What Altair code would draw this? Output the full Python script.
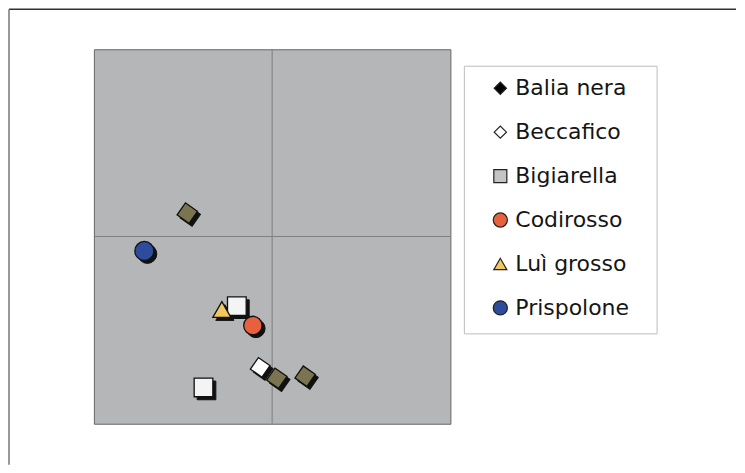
import altair as alt
import pandas as pd

# plotted points (ordination scores)
pt_species = ["Balia nera", "Balia nera", "Balia nera", "Beccafico", "Bigiarella",
              "Bigiarella", "Codirosso", "Luì grosso", "Prispolone"]
pt_x = [-0.476, 0.026, 0.185, -0.067, -0.198, -0.385, -0.108, -0.282, -0.717]
pt_y = [0.125, -0.757, -0.746, -0.699, -0.372, -0.806, -0.475, -0.390, -0.077]

# marker styling per species as drawn in the plot
sp_names = ["Balia nera", "Beccafico", "Bigiarella", "Codirosso", "Luì grosso", "Prispolone"]
sp_plot_fill = ["#7a7550", "#ffffff", "#f4f4f4", "#e8613f", "#f3c75f", "#2d4c9c"]
sp_plot_shape = ["square", "square", "square", "circle", "triangle-up", "circle"]
sp_plot_angle = [35, 35, 0, 0, 0, 0]
sp_plot_size = [215, 200, 350, 340, 330, 360]

# legend symbols
leg_fill = ["#000000", "#ffffff", "#c4c4c4", "#e8613f", "#f3c75f", "#2d4c9c"]
leg_shape = ["diamond", "diamond", "square", "circle", "triangle-up", "circle"]
leg_size = [150, 150, 170, 200, 170, 200]

idx = {s: i for i, s in enumerate(sp_names)}
pts = pd.DataFrame({
    "species": pt_species,
    "x": pt_x,
    "y": pt_y,
    "fill": [sp_plot_fill[idx[s]] for s in pt_species],
    "shape": [sp_plot_shape[idx[s]] for s in pt_species],
    "angle": [sp_plot_angle[idx[s]] for s in pt_species],
    "size": [sp_plot_size[idx[s]] for s in pt_species],
})
leg = pd.DataFrame({"species": sp_names, "fill": leg_fill, "shape": leg_shape, "size": leg_size})

W, H = 357, 375
xs = alt.Scale(domain=[-1, 1], nice=False, zero=False)
ys = alt.Scale(domain=[-1, 1], nice=False, zero=False)
one = alt.Data(values=[{}])

cross_v = alt.Chart(one).mark_rule(color="#7e8082", strokeWidth=1).encode(
    x=alt.datum(0, scale=xs, axis=None))
cross_h = alt.Chart(one).mark_rule(color="#7e8082", strokeWidth=1).encode(
    y=alt.datum(0, scale=ys, axis=None))

base = alt.Chart(pts).encode(
    x=alt.X("x:Q", scale=xs, axis=None),
    y=alt.Y("y:Q", scale=ys, axis=None),
    shape=alt.Shape("shape:N", scale=None),
    angle=alt.Angle("angle:Q", scale=None),
    size=alt.Size("size:Q", scale=None),
)
shadow = base.mark_point(filled=True, fill="#111111", stroke="#111111", strokeWidth=1,
                         opacity=1, xOffset=3, yOffset=3)
points = base.mark_point(filled=True, stroke="#111111", strokeWidth=1.3, opacity=1).encode(
    fill=alt.Fill("fill:N", scale=None))

main = alt.layer(cross_v, cross_h, shadow, points)

ly = alt.Y("species:N", scale=alt.Scale(type="point", domain=sp_names, range=[39, 259], padding=0),
           axis=None)
box = alt.Chart(one).mark_rect(fill="white", stroke="#bdbdbd", strokeWidth=1).encode(
    x=alt.value(371), x2=alt.value(564), y=alt.value(17), y2=alt.value(285))
lsym = alt.Chart(leg).mark_point(filled=True, stroke="#222222", strokeWidth=1.2, opacity=1).encode(
    x=alt.value(407), y=ly,
    shape=alt.Shape("shape:N", scale=None),
    fill=alt.Fill("fill:N", scale=None),
    size=alt.Size("size:Q", scale=None),
)
ltxt = alt.Chart(leg).mark_text(align="left", baseline="middle", font="DejaVu Sans",
                                fontSize=22, color="#151515").encode(
    x=alt.value(422), y=ly, text="species:N")
legend = alt.layer(box, lsym, ltxt)

frame_top = alt.Chart(one).mark_rule(color="#333333", strokeWidth=1.5).encode(
    x=alt.value(-85), x2=alt.value(643), y=alt.value(-40))
frame_left = alt.Chart(one).mark_rule(color="#777777", strokeWidth=1.5).encode(
    x=alt.value(-85), y=alt.value(-40), y2=alt.value(416))
frame = alt.layer(frame_top, frame_left)

chart = alt.layer(frame, main, legend).resolve_scale(
    y="independent", x="independent"
).properties(
    width=W, height=H, padding=0, background="white"
).configure_view(
    fill="#b4b6b8", stroke="#666666", strokeWidth=1
)

chart.save("out.html", embed_options={"renderer": "svg", "actions": False})
